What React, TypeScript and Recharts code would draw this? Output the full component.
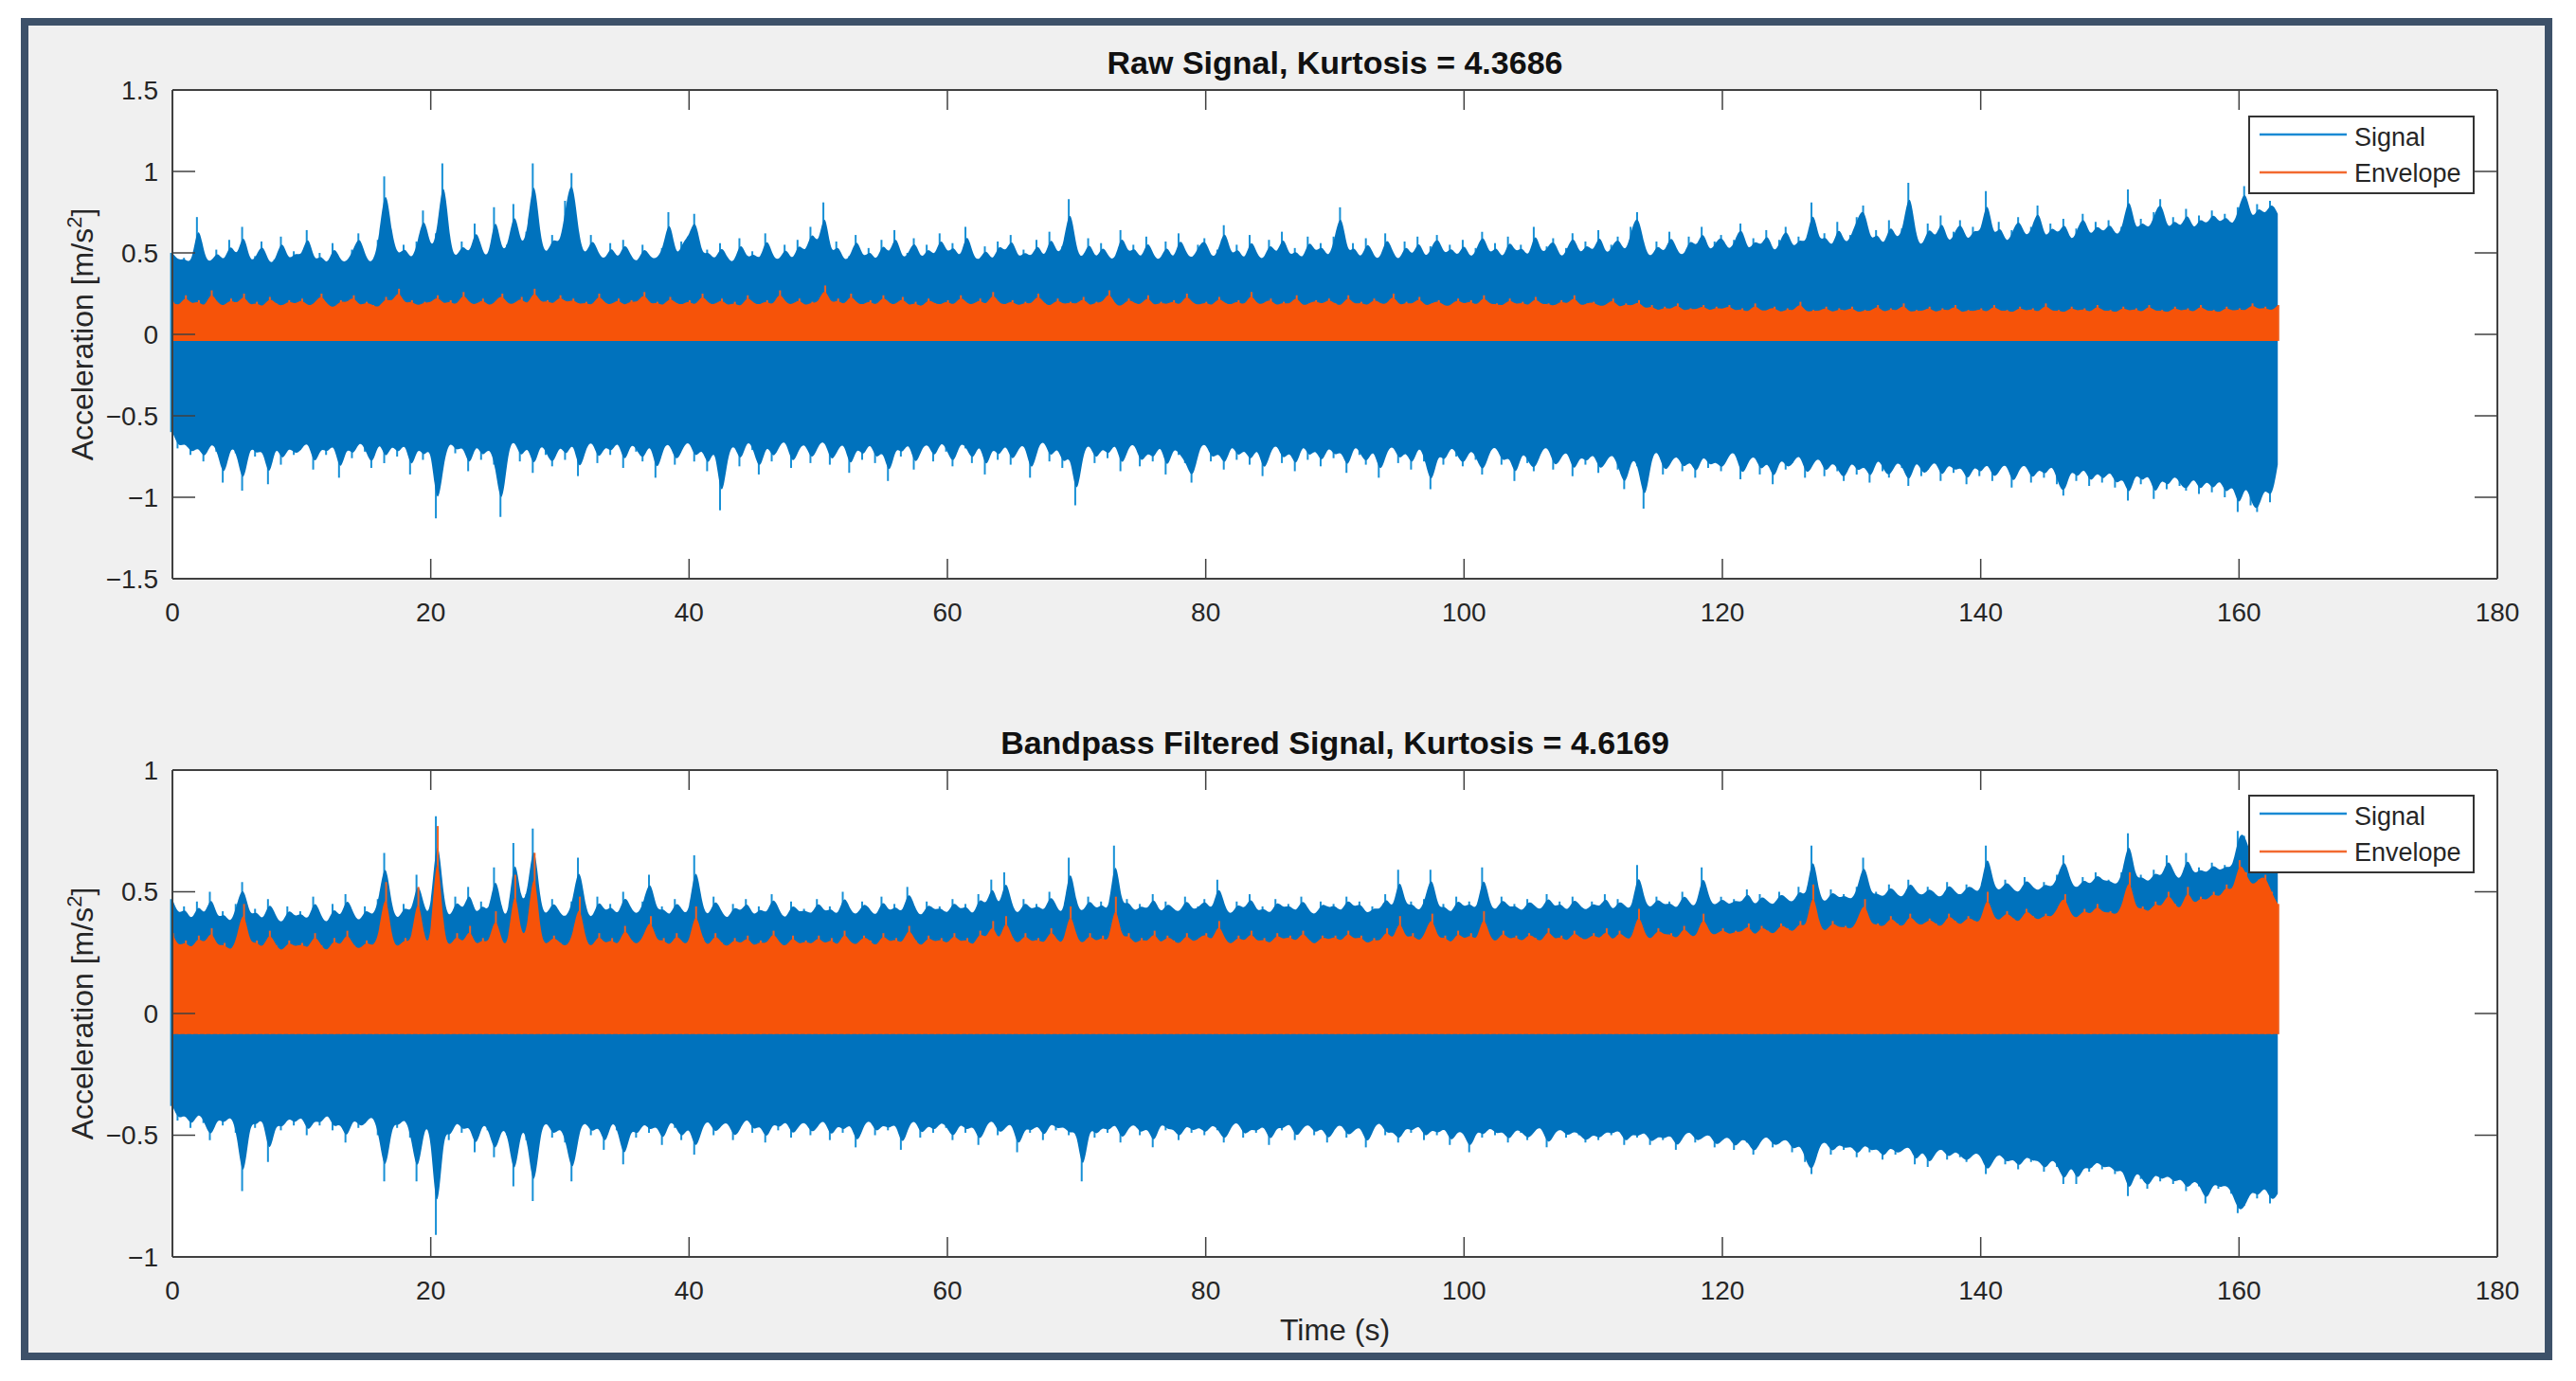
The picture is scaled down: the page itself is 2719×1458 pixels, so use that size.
import React from 'react';
import { ComposedChart, Area, Bar, XAxis, YAxis, CartesianGrid, Legend } from 'recharts';

// ---------------- data ----------------
const STEP = 0.5; // seconds between samples (0 … 163 s)

const X_TICKS = [0, 20, 40, 60, 80, 100, 120, 140, 160, 180];
const RAW_Y_TICKS = [-1.5, -1, -0.5, 0, 0.5, 1, 1.5];
const BP_Y_TICKS = [-1, -0.5, 0, 0.5, 1];

const RAW_TITLE = 'Raw Signal, Kurtosis = 4.3686';
const BP_TITLE = 'Bandpass Filtered Signal, Kurtosis = 4.6169';

const RAW_ENV_FLOOR = -0.04;
const BP_ENV_FLOOR = -0.085;

const RAW_SIG_HI = [
  .50,.45,.47,.42,.72,.46,.44,.52,.43,.58, .45,.66,.43,.48,.57,.42,.46,.60,.44,.51,
  .47,.64,.43,.50,.41,.56,.45,.44,.52,.62, .46,.43,.58,.97,.60,.47,.55,.44,.57,.76,
  .50,.62,1.05,.53,.46,.57,.47,.68,.50,.46, .78,.49,.55,.80,.52,.63,1.05,.56,.48,.61,
  .53,.82,.99,.57,.47,.61,.49,.45,.56,.44, .58,.48,.43,.55,.47,.46,.53,.75,.45,.57,
  .60,.74,.47,.52,.44,.56,.46,.43,.59,.45, .51,.44,.62,.47,.45,.55,.43,.58,.48,.66,
  .52,.81,.46,.57,.44,.48,.61,.45,.53,.43, .58,.47,.64,.45,.50,.59,.44,.55,.46,.62,
  .48,.56,.44,.66,.47,.45,.54,.43,.57,.49, .61,.45,.52,.46,.58,.44,.63,.48,.54,.83,
  .50,.46,.59,.44,.56,.47,.45,.64,.48,.55, .44,.60,.47,.45,.57,.43,.62,.49,.46,.55,
  .59,.45,.52,.67,.46,.55,.43,.61,.48,.45, .58,.47,.63,.46,.53,.44,.60,.49,.56,.45,
  .60,.78,.47,.56,.44,.59,.48,.45,.62,.50, .44,.57,.46,.60,.45,.54,.61,.47,.55,.46,
  .58,.45,.53,.63,.47,.56,.44,.60,.49,.55, .45,.66,.48,.54,.59,.45,.53,.62,.47,.57,
  .49,.64,.47,.55,.60,.48,.66,.75,.52,.46, .57,.48,.63,.51,.47,.60,.52,.66,.49,.57,
  .61,.50,.58,.68,.49,.59,.53,.64,.48,.58, .66,.51,.60,.54,.81,.55,.62,.51,.69,.54,
  .61,.72,.79,.55,.64,.52,.70,.57,.65,.93, .58,.53,.68,.57,.73,.54,.63,.70,.55,.66,
  .60,.88,.57,.69,.54,.64,.72,.58,.66,.79, .56,.68,.60,.71,.55,.65,.74,.58,.69,.61,
  .70,.59,.66,.89,.61,.71,.63,.75,.83,.62, .72,.64,.77,.62,.73,.66,.76,.67,.74,.65,
  .78,.91,.68,.80,.72,.82,.74,
];

const RAW_SIG_LO = [
  -.60,-.70,-.66,-.74,-.68,-.78,-.65,-.72,-.91,-.67, -.73,-.96,-.66,-.75,-.69,-.92,-.65,-.80,-.68,-.74,
  -.71,-.64,-.83,-.68,-.74,-.65,-.88,-.67,-.76,-.64, -.72,-.82,-.63,-.79,-.66,-.75,-.64,-.86,-.67,-.77,
  -.66,-1.13,-.78,-.64,-.73,-.67,-.84,-.65,-.77,-.68, -.80,-1.12,-.69,-.64,-.78,-.66,-.85,-.65,-.74,-.81,
  -.66,-.77,-.63,-.87,-.70,-.64,-.79,-.67,-.74,-.63, -.82,-.65,-.72,-.78,-.64,-.88,-.69,-.66,-.80,-.70,
  -.64,-.78,-.68,-.84,-.65,-1.08,-.73,-.66,-.81,-.63, -.71,-.86,-.65,-.78,-.68,-.64,-.82,-.70,-.66,-.79,
  -.68,-.64,-.80,-.71,-.65,-.85,-.67,-.77,-.64,-.79, -.69,-.90,-.67,-.75,-.64,-.83,-.70,-.66,-.78,-.64,
  -.72,-.81,-.65,-.70,-.79,-.64,-.86,-.67,-.77,-.65, -.80,-.70,-.66,-.88,-.69,-.64,-.78,-.67,-.82,-.71,
  -1.05,-.72,-.66,-.79,-.68,-.76,-.64,-.84,-.69,-.66, -.81,-.71,-.78,-.65,-.86,-.68,-.74,-.79,-.91,-.69,
  -.66,-.78,-.71,-.83,-.65,-.77,-.69,-.80,-.67,-.87, -.72,-.66,-.79,-.70,-.84,-.65,-.77,-.69,-.81,-.67,
  -.76,-.70,-.85,-.66,-.74,-.80,-.68,-.88,-.72,-.67, -.79,-.70,-.83,-.66,-.78,-.95,-.71,-.80,-.67,-.75,
  -.81,-.69,-.77,-.86,-.71,-.68,-.80,-.73,-.90,-.70, -.79,-.84,-.71,-.68,-.83,-.76,-.70,-.87,-.73,-.80,
  -.71,-.85,-.78,-.72,-.83,-.95,-.74,-.81,-1.07,-.75, -.70,-.86,-.79,-.73,-.84,-.76,-.88,-.72,-.82,-.77,
  -.84,-.74,-.71,-.89,-.78,-.73,-.86,-.76,-.92,-.74, -.83,-.79,-.72,-.88,-.80,-.74,-.87,-.77,-.84,-.90,
  -.76,-.86,-.79,-.91,-.74,-.84,-.88,-.77,-.82,-.93, -.75,-.87,-.83,-.76,-.90,-.78,-.85,-.80,-.92,-.79,
  -.87,-.77,-.90,-.83,-.78,-.94,-.82,-.79,-.91,-.81, -.88,-.78,-.92,-.99,-.81,-.90,-.80,-.93,-.83,-.91,
  -.82,-.94,-.86,-1.02,-.83,-.92,-.84,-1.01,-.87,-.95, -.85,-.93,-.96,-.86,-.98,-.88,-.97,-.87,-1.00,-.90,
  -1.09,-.90,-1.05,-1.09,-.92,-1.03,-.80,
];

const RAW_ENV_HI = [
  .20,.17,.24,.18,.21,.16,.27,.19,.17,.22, .18,.25,.17,.20,.16,.23,.19,.17,.21,.18,
  .22,.17,.19,.25,.18,.16,.21,.19,.24,.17, .20,.18,.16,.23,.19,.28,.18,.21,.17,.20,
  .19,.24,.18,.21,.17,.26,.19,.18,.22,.17, .20,.25,.18,.19,.23,.17,.28,.19,.21,.18,
  .24,.19,.22,.18,.20,.17,.25,.19,.18,.22, .17,.21,.19,.26,.18,.20,.17,.23,.19,.18,
  .21,.17,.25,.19,.18,.22,.17,.20,.16,.24, .19,.18,.21,.17,.27,.19,.18,.22,.17,.20,
  .19,.30,.18,.22,.17,.25,.19,.18,.21,.17, .24,.19,.18,.23,.17,.20,.16,.22,.19,.18,
  .21,.17,.24,.19,.18,.22,.17,.26,.19,.18, .21,.17,.20,.18,.25,.19,.17,.22,.18,.20,
  .18,.23,.17,.20,.19,.27,.18,.17,.22,.19, .18,.24,.17,.20,.18,.21,.17,.25,.19,.18,
  .20,.17,.23,.19,.18,.21,.17,.26,.18,.19, .22,.17,.20,.18,.24,.17,.19,.21,.18,.22,
  .19,.17,.24,.18,.20,.17,.22,.19,.18,.25, .17,.20,.18,.23,.17,.19,.21,.17,.18,.22,
  .18,.21,.17,.24,.18,.19,.17,.22,.18,.20, .17,.23,.18,.19,.17,.21,.18,.24,.17,.19,
  .20,.17,.18,.22,.16,.19,.17,.21,.15,.18, .14,.17,.15,.19,.14,.16,.15,.18,.14,.17,
  .15,.18,.14,.16,.13,.19,.14,.15,.17,.13, .16,.14,.20,.13,.15,.14,.17,.13,.16,.14,
  .17,.13,.15,.14,.18,.13,.16,.14,.19,.13, .15,.14,.17,.13,.16,.14,.18,.13,.15,.14,
  .16,.13,.18,.14,.15,.13,.17,.14,.16,.13, .19,.14,.15,.13,.17,.14,.16,.13,.18,.14,
  .15,.13,.17,.14,.16,.13,.18,.14,.15,.13, .17,.14,.16,.13,.18,.14,.15,.13,.17,.14,
  .16,.14,.19,.15,.17,.14,.18,
];

const BP_SIG_HI = [
  .47,.40,.44,.37,.46,.39,.50,.38,.42,.36, .45,.54,.39,.43,.37,.47,.40,.36,.44,.39,
  .42,.37,.48,.40,.36,.45,.38,.49,.41,.37, .44,.39,.47,.66,.42,.38,.45,.40,.57,.43,
  .39,.81,.45,.38,.48,.41,.52,.39,.46,.40, .60,.42,.38,.70,.44,.49,.76,.43,.40,.47,
  .41,.39,.46,.64,.42,.38,.48,.41,.45,.39, .50,.43,.40,.46,.57,.41,.44,.39,.47,.42,
  .40,.65,.44,.39,.48,.42,.38,.45,.41,.47, .39,.44,.40,.49,.42,.38,.46,.41,.43,.40,
  .47,.41,.44,.39,.50,.42,.40,.46,.43,.39, .48,.41,.45,.40,.52,.43,.39,.46,.42,.44,
  .40,.47,.42,.45,.39,.49,.43,.55,.41,.58, .44,.40,.47,.42,.45,.41,.50,.43,.40,.64,
  .44,.41,.48,.42,.46,.40,.69,.43,.47,.41, .45,.42,.49,.40,.46,.43,.41,.48,.42,.44,
  .47,.41,.55,.43,.40,.46,.42,.49,.41,.44, .40,.47,.43,.45,.41,.48,.42,.40,.46,.43,
  .45,.41,.48,.43,.46,.40,.44,.42,.49,.41, .59,.43,.46,.41,.47,.59,.42,.45,.40,.48,
  .43,.46,.41,.60,.44,.42,.48,.43,.45,.41, .47,.44,.42,.49,.43,.46,.41,.48,.44,.42,
  .46,.43,.49,.41,.47,.44,.42,.61,.45,.43, .48,.44,.46,.42,.50,.45,.43,.60,.46,.44,
  .48,.44,.47,.45,.51,.43,.49,.46,.44,.50, .47,.45,.52,.46,.69,.48,.45,.51,.47,.49,
  .46,.52,.64,.48,.50,.47,.53,.49,.47,.55, .50,.48,.52,.49,.47,.54,.50,.48,.53,.51,
  .49,.69,.52,.50,.55,.51,.49,.56,.52,.50, .54,.51,.57,.65,.53,.51,.56,.52,.58,.54,
  .55,.52,.58,.74,.54,.57,.53,.59,.55,.65, .57,.54,.66,.56,.60,.57,.62,.58,.61,.59,
  .75,.73,.63,.66,.70,.61,.58,
];

const BP_SIG_LO = [
  -.38,-.44,-.41,-.47,-.40,-.45,-.52,-.42,-.46,-.41, -.49,-.73,-.43,-.47,-.41,-.61,-.44,-.48,-.42,-.46,
  -.41,-.50,-.43,-.46,-.40,-.48,-.44,-.53,-.42,-.47, -.45,-.41,-.50,-.69,-.44,-.47,-.42,-.51,-.69,-.45,
  -.48,-.91,-.46,-.52,-.43,-.49,-.45,-.57,-.44,-.48, -.59,-.46,-.50,-.71,-.45,-.52,-.77,-.47,-.44,-.51,
  -.46,-.53,-.69,-.47,-.44,-.50,-.45,-.56,-.43,-.48, -.62,-.46,-.51,-.44,-.49,-.45,-.54,-.43,-.47,-.52,
  -.45,-.58,-.47,-.43,-.50,-.46,-.44,-.52,-.47,-.42, -.49,-.45,-.53,-.44,-.48,-.43,-.51,-.46,-.44,-.50,
  -.46,-.43,-.52,-.45,-.49,-.44,-.55,-.46,-.43,-.50, -.45,-.48,-.44,-.56,-.46,-.43,-.51,-.45,-.49,-.44,
  -.47,-.52,-.44,-.49,-.45,-.54,-.46,-.43,-.50,-.47, -.44,-.57,-.46,-.49,-.45,-.52,-.44,-.48,-.46,-.50,
  -.47,-.69,-.45,-.51,-.46,-.49,-.44,-.53,-.47,-.45, -.50,-.46,-.55,-.44,-.48,-.47,-.52,-.45,-.49,-.46,
  -.50,-.45,-.48,-.53,-.46,-.44,-.51,-.47,-.49,-.45, -.54,-.46,-.48,-.44,-.52,-.47,-.45,-.50,-.46,-.53,
  -.47,-.45,-.51,-.48,-.46,-.55,-.47,-.44,-.50,-.48, -.53,-.46,-.49,-.45,-.52,-.47,-.50,-.46,-.54,-.48,
  -.49,-.57,-.47,-.51,-.46,-.50,-.48,-.53,-.47,-.49, -.52,-.48,-.46,-.55,-.49,-.47,-.51,-.48,-.50,-.53,
  -.49,-.52,-.48,-.50,-.47,-.54,-.49,-.51,-.48,-.54, -.50,-.52,-.49,-.56,-.50,-.48,-.53,-.51,-.49,-.55,
  -.52,-.50,-.56,-.51,-.53,-.58,-.52,-.50,-.55,-.53, -.51,-.57,-.53,-.61,-.66,-.54,-.52,-.58,-.53,-.56,
  -.54,-.59,-.53,-.57,-.55,-.60,-.54,-.58,-.56,-.54, -.62,-.55,-.63,-.57,-.55,-.60,-.56,-.59,-.61,-.57,
  -.58,-.66,-.60,-.57,-.62,-.59,-.64,-.58,-.61,-.60, -.65,-.59,-.63,-.70,-.61,-.70,-.62,-.65,-.60,-.64,
  -.62,-.66,-.63,-.75,-.64,-.68,-.72,-.65,-.69,-.66, -.70,-.67,-.73,-.68,-.71,-.78,-.69,-.72,-.70,-.74,
  -.82,-.79,-.72,-.76,-.70,-.78,-.74,
];

const BP_ENV_HI = [
  .33,.27,.30,.26,.32,.28,.35,.27,.29,.25, .31,.45,.28,.30,.26,.34,.28,.25,.30,.27,
  .29,.26,.33,.28,.25,.31,.27,.34,.28,.26, .30,.27,.32,.54,.29,.27,.31,.28,.52,.30,
  .27,.77,.31,.27,.33,.28,.36,.27,.31,.28, .42,.29,.27,.57,.30,.34,.66,.30,.28,.32,
  .29,.27,.32,.48,.29,.27,.33,.28,.31,.27, .36,.30,.28,.32,.40,.29,.31,.27,.33,.29,
  .28,.44,.31,.27,.33,.29,.27,.31,.28,.32, .27,.30,.28,.34,.29,.27,.32,.28,.30,.28,
  .32,.28,.31,.27,.34,.29,.28,.32,.30,.27, .33,.29,.31,.28,.36,.30,.27,.32,.29,.31,
  .28,.33,.29,.31,.27,.34,.30,.38,.28,.40, .31,.28,.33,.29,.31,.28,.35,.30,.28,.44,
  .31,.28,.33,.29,.32,.28,.48,.30,.33,.28, .31,.29,.34,.28,.32,.30,.28,.33,.29,.31,
  .33,.29,.38,.30,.28,.32,.29,.34,.29,.31, .28,.33,.30,.32,.29,.34,.30,.28,.32,.30,
  .32,.29,.34,.30,.32,.28,.31,.29,.35,.29, .40,.30,.33,.29,.33,.41,.30,.32,.28,.34,
  .30,.33,.29,.42,.31,.29,.34,.30,.32,.29, .33,.31,.29,.35,.30,.32,.29,.34,.31,.30,
  .33,.30,.35,.29,.34,.31,.30,.43,.32,.30, .35,.32,.33,.30,.36,.32,.31,.41,.33,.32,
  .35,.32,.34,.33,.37,.31,.36,.34,.32,.37, .35,.33,.38,.34,.53,.36,.33,.38,.35,.36,
  .34,.39,.47,.36,.37,.35,.40,.37,.35,.41, .37,.36,.39,.37,.35,.41,.38,.36,.40,.38,
  .37,.50,.39,.38,.42,.39,.37,.43,.40,.38, .41,.39,.44,.49,.40,.39,.43,.40,.45,.41,
  .42,.40,.45,.58,.42,.44,.41,.46,.43,.50, .45,.42,.52,.44,.48,.46,.50,.47,.53,.49,
  .63,.58,.52,.55,.57,.50,.45,
];

// ---------------- styling ----------------
const FONT = '"Liberation Sans", Arial, Helvetica, sans-serif';
const TEXT = '#262626';
const AXIS = '#404040';
const BLUE = '#0072BD';
const BLUE_EDGE = '#1790D6';
const ORANGE = '#F65309';
const ORANGE_EDGE = '#F06020';
const LEGEND_COLORS: Record<string, string> = { Signal: '#1A8AD4', Envelope: '#F26A30' };
const LEGEND_ORDER = ['Signal', 'Envelope'];

const CHART_W = 2719;
const PLOT_LEFT = 182;
const PLOT_RIGHT = 2636;
const CENTER_X = (PLOT_LEFT + PLOT_RIGHT) / 2;

const fmt = (v: number) => (v < 0 ? '\u2212' + String(-v) : String(v));

function build(lo: number[], hi: number[], envHi: number[], floor: number) {
  return lo.map((l, i) => ({ t: i * STEP, sig: [l, hi[i]], env: [floor, envHi[i]] }));
}

const RAW_DATA = build(RAW_SIG_LO, RAW_SIG_HI, RAW_ENV_HI, RAW_ENV_FLOOR);
const BP_DATA = build(BP_SIG_LO, BP_SIG_HI, BP_ENV_HI, BP_ENV_FLOOR);

const renderLegend = (props: any) => {
  const items = [...(props.payload || [])]
    .filter((it: any) => LEGEND_ORDER.indexOf(it.value) >= 0)
    .sort((a: any, b: any) => LEGEND_ORDER.indexOf(a.value) - LEGEND_ORDER.indexOf(b.value));
  return (
    <svg width={239} height={83} style={{ display: 'block' }}>
      <rect x={1} y={1} width={237} height={81} fill="#FFFFFF" stroke="#333333" strokeWidth={2} />
      {items.map((it: any, i: number) => (
        <g key={i}>
          <line x1={12} x2={104} y1={20 + i * 40} y2={20 + i * 40}
            stroke={LEGEND_COLORS[it.value] || it.color} strokeWidth={2.5} />
          <text x={112} y={32 + i * 38} fontSize={27} fill={TEXT} fontFamily={FONT}>{it.value}</text>
        </g>
      ))}
    </svg>
  );
};

type PanelProps = {
  data: any[];
  yDomain: [number, number];
  yTicks: number[];
  title: string;
  height: number;
  plotTop: number;
  plotBottom: number;
  legendTop: number;
  xLabel?: string;
};

function Panel({ data, yDomain, yTicks, title, height, plotTop, plotBottom, legendTop, xLabel }: PanelProps) {
  // axes are 1px thick boxes, so the plot area lands exactly on plotTop/plotBottom/PLOT_LEFT/PLOT_RIGHT
  const margin = {
    top: plotTop - 1,
    left: PLOT_LEFT - 1,
    right: CHART_W - PLOT_RIGHT - 1,
    bottom: height - plotBottom - 1,
  };
  const midY = (plotTop + plotBottom) / 2;

  const xTick = (p: any) => {
    const x = p.payload && p.payload.coordinate != null ? p.payload.coordinate : p.x;
    return (
      <g>
        <line x1={x} x2={x} y1={plotBottom} y2={plotBottom - 21} stroke={AXIS} strokeWidth={1.5} />
        <line x1={x} x2={x} y1={plotTop} y2={plotTop + 21} stroke={AXIS} strokeWidth={1.5} />
        <text x={x} y={plotBottom + 45} textAnchor="middle" fontSize={28} fill={TEXT} fontFamily={FONT}>
          {fmt(p.payload.value)}
        </text>
      </g>
    );
  };

  const yTick = (p: any) => {
    const y = p.payload && p.payload.coordinate != null ? p.payload.coordinate : p.y;
    return (
      <g>
        <line x1={PLOT_LEFT} x2={PLOT_LEFT + 24} y1={y} y2={y} stroke={AXIS} strokeWidth={1.5} />
        <line x1={PLOT_RIGHT - 24} x2={PLOT_RIGHT} y1={y} y2={y} stroke={AXIS} strokeWidth={1.5} />
        <text x={PLOT_LEFT - 15} y={y} dy="0.35em" textAnchor="end" fontSize={28} fill={TEXT} fontFamily={FONT}>
          {fmt(p.payload.value)}
        </text>
      </g>
    );
  };

  const titleLabel = () => (
    <text x={CENTER_X} y={plotTop - 17} textAnchor="middle" fontSize={34} fontWeight="bold" fill="#111111" fontFamily={FONT}>
      {title}
    </text>
  );

  const yLabel = () => (
    <text x={98} y={midY} transform={`rotate(-90 98 ${midY})`} textAnchor="middle" fontSize={32} fill={TEXT} fontFamily={FONT}>
      Acceleration [m/s<tspan dy={-12} fontSize={22}>2</tspan><tspan dy={12}>]</tspan>
    </text>
  );

  const xLabelEl = () => (
    <text x={CENTER_X} y={plotBottom + 88} textAnchor="middle" fontSize={32} fill={TEXT} fontFamily={FONT}>
      {xLabel}
    </text>
  );

  return (
    <ComposedChart width={CHART_W} height={height} data={data} margin={margin}>
      <CartesianGrid xAxisId="b" yAxisId="l" horizontal={false} vertical={false} fill="#FFFFFF" />
      <XAxis xAxisId="b" dataKey="t" type="number" domain={[0, 180]} ticks={X_TICKS} interval={0}
        height={1} tickLine={false} axisLine={{ stroke: AXIS, strokeWidth: 2 }} tick={xTick}
        label={xLabel ? xLabelEl : undefined} />
      <XAxis xAxisId="t" dataKey="t" orientation="top" type="number" domain={[0, 180]} ticks={X_TICKS}
        height={1} tick={false} tickLine={false} axisLine={{ stroke: AXIS, strokeWidth: 2 }} label={titleLabel} />
      <YAxis yAxisId="l" type="number" domain={yDomain} ticks={yTicks} interval={0} width={1}
        tickLine={false} axisLine={{ stroke: AXIS, strokeWidth: 2 }} tick={yTick} label={yLabel} />
      <YAxis yAxisId="r" orientation="right" type="number" domain={yDomain} ticks={yTicks} width={1}
        tick={false} tickLine={false} axisLine={{ stroke: AXIS, strokeWidth: 2 }} />
      {/* thin spikes first, the smoothed body drawn over them: only the tips stick out */}
      <Bar xAxisId="b" yAxisId="l" dataKey="sig" name="Signal spikes" legendType="none"
        fill={BLUE_EDGE} barSize={2} zIndex={100} isAnimationActive={false} />
      <Area xAxisId="b" yAxisId="l" dataKey="sig" name="Signal" type="basis"
        fill={BLUE} fillOpacity={1} stroke="none" zIndex={101}
        dot={false} activeDot={false} isAnimationActive={false} />
      <Bar xAxisId="b" yAxisId="l" dataKey="env" name="Envelope spikes" legendType="none"
        fill={ORANGE_EDGE} barSize={2} zIndex={102} isAnimationActive={false} />
      <Area xAxisId="b" yAxisId="l" dataKey="env" name="Envelope" type="basis"
        fill={ORANGE} fillOpacity={1} stroke="none" zIndex={103}
        dot={false} activeDot={false} isAnimationActive={false} />
      <Legend layout="vertical" align="center" verticalAlign="middle" content={renderLegend}
        wrapperStyle={{ position: 'absolute', left: 2373, top: legendTop, width: 239, height: 83 }} />
    </ComposedChart>
  );
}

export default function App() {
  return (
    <div style={{ position: 'absolute', left: 0, top: 0, width: 2719, height: 1458, background: '#FFFFFF', overflow: 'hidden' }}>
      <div style={{
        position: 'absolute', left: 22, top: 19, width: 2672, height: 1417, boxSizing: 'border-box',
        border: '8px solid #3D5169', background: '#F0F0F0',
      }} />
      <div style={{ position: 'absolute', left: 0, top: 0 }}>
        <Panel data={RAW_DATA} yDomain={[-1.5, 1.5]} yTicks={RAW_Y_TICKS} title={RAW_TITLE}
          height={700} plotTop={95} plotBottom={611} legendTop={122} />
      </div>
      <div style={{ position: 'absolute', left: 0, top: 710 }}>
        <Panel data={BP_DATA} yDomain={[-1, 1]} yTicks={BP_Y_TICKS} title={BP_TITLE}
          height={740} plotTop={103} plotBottom={617} legendTop={129} xLabel="Time (s)" />
      </div>
    </div>
  );
}
